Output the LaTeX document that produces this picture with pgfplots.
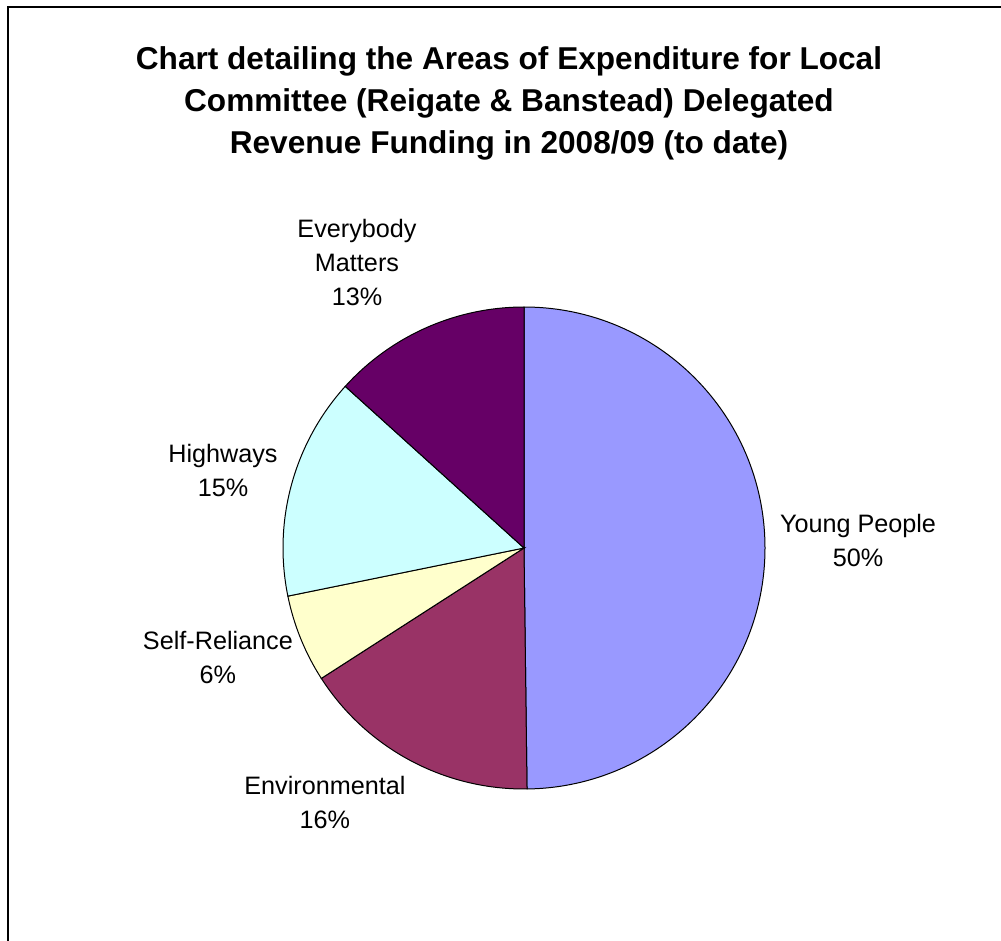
\documentclass[border=0pt]{standalone}
\usepackage{pgfplots}
\pgfplotsset{compat=1.18}
\usepackage{pgfplotstable}
\usepackage{fontspec}
\setmainfont{Liberation Sans}

\definecolor{cYP}{HTML}{9999FF}
\definecolor{cEN}{HTML}{993366}
\definecolor{cSR}{HTML}{FFFFCC}
\definecolor{cHW}{HTML}{CCFFFF}
\definecolor{cEM}{HTML}{660066}

% share of spending (%), clockwise from 12 o'clock
\pgfplotstableread{
value colour
49.8 cYP
16.1 cEN
5.9  cSR
14.9 cHW
13.3 cEM
}\piedata

\begin{document}
\begin{tikzpicture}[lbl/.style={align=center, font=\fontsize{12.6}{17}\selectfont}]
\path[use as bounding box] (0,0) rectangle (500.5pt,-470.5pt);
\draw[line width=1pt] (3.75pt,-475pt) -- (3.75pt,-3.75pt) -- (505pt,-3.75pt);
\node[align=center, font=\fontsize{15.8}{21}\selectfont\bfseries] at (254.5pt,-51.5pt)
  {Chart detailing the Areas of Expenditure for Local\\Committee (Reigate \& Banstead) Delegated\\Revenue Funding in 2008/09 (to date)};
\begin{axis}[at={(262pt,-274pt)}, anchor=center,
             width=241pt, height=241pt, scale only axis,
             xmin=-1, xmax=1, ymin=-1, ymax=1,
             hide axis, clip=false]
  \pgfplotstablegetrowsof{\piedata}
  \pgfmathtruncatemacro\lastrow{\pgfplotsretval-1}
  \def\angA{90}
  \pgfplotsforeachungrouped \i in {0,...,\lastrow}{%
    \pgfplotstablegetelem{\i}{value}\of\piedata
    \pgfmathsetmacro\angB{\angA-3.6*\pgfplotsretval}
    \pgfplotstablegetelem{\i}{colour}\of\piedata
    \edef\temp{\noexpand\filldraw[fill=\pgfplotsretval, draw=black, line width=0.5pt]
      (axis cs:0,0) -- ++(\angA:120.5pt) arc[start angle=\angA, end angle=\angB, radius=120.5pt] -- cycle;}
    \temp
    \let\angA\angB
  }
  \node[lbl] at (axis cs:1.386,0.033) {Young People\\50\%};
  \node[lbl] at (axis cs:-0.826,-1.054) {Environmental\\16\%};
  \node[lbl] at (axis cs:-1.27,-0.456) {Self-Reliance\\6\%};
  \node[lbl] at (axis cs:-1.249,0.32) {Highways\\15\%};
  \node[lbl] at (axis cs:-0.693,1.183) {Everybody\\Matters\\13\%};
\end{axis}
\end{tikzpicture}
\end{document}
